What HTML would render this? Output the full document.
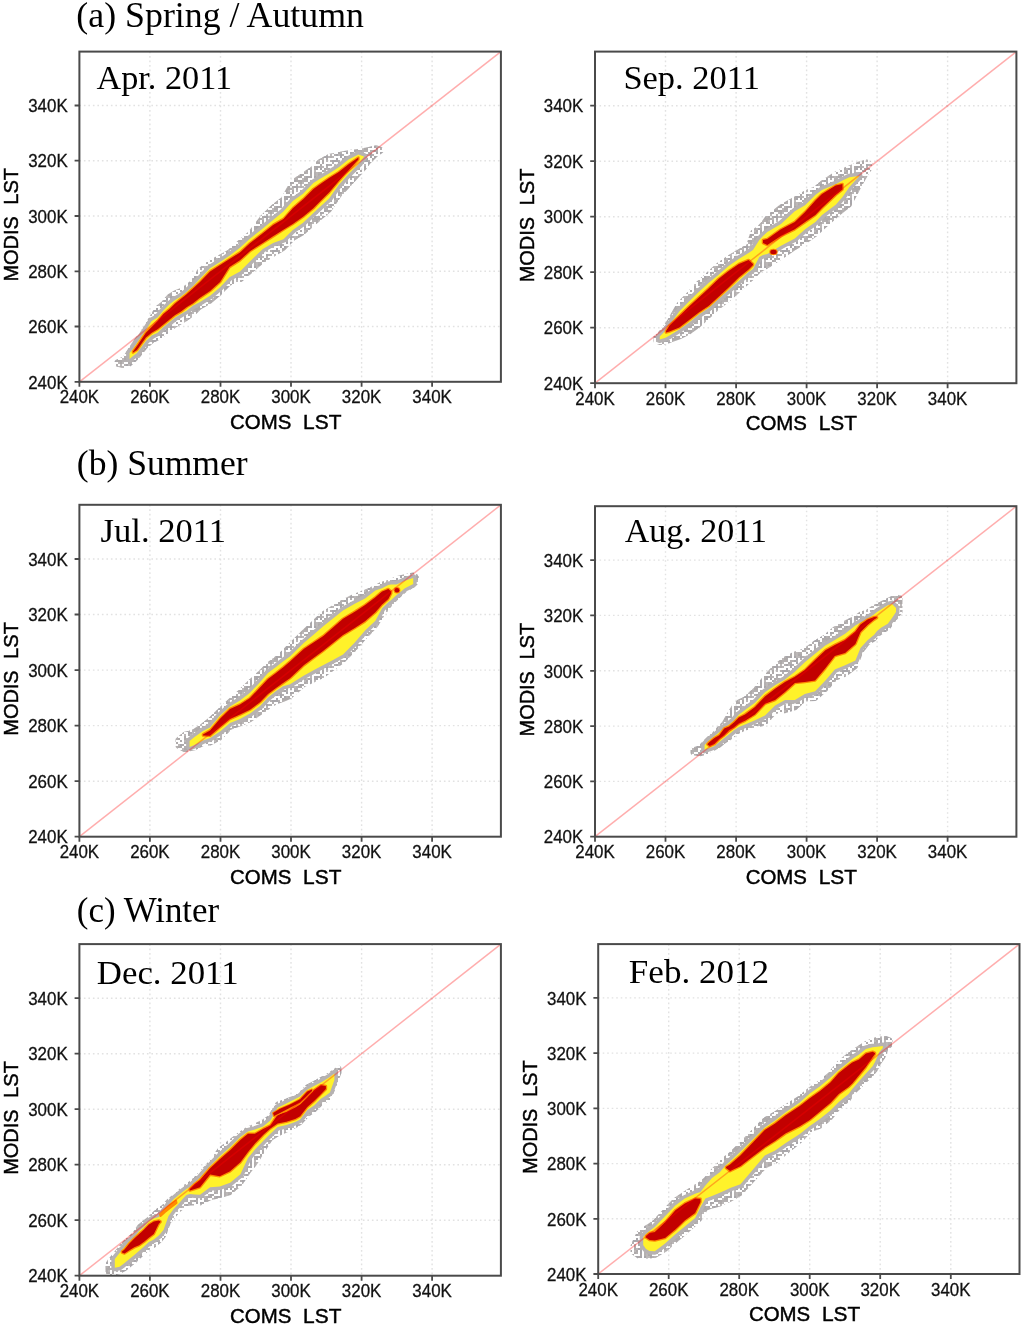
<!DOCTYPE html><html><head><meta charset="utf-8"><style>html,body{margin:0;padding:0;background:#fff;width:1024px;height:1325px;overflow:hidden}svg{display:block;will-change:transform}</style></head><body>
<svg width="1024" height="1325" viewBox="0 0 1024 1325">
<defs><filter id="bl" x="-5%" y="-5%" width="110%" height="110%"><feGaussianBlur stdDeviation="0.6"/></filter><filter id="bl2" x="-5%" y="-5%" width="110%" height="110%"><feGaussianBlur stdDeviation="0.5"/></filter><pattern id="spk" patternUnits="userSpaceOnUse" width="30" height="30"><rect x="0" y="0" width="2" height="2" fill="#aeaaaa"/><rect x="2" y="0" width="2" height="2" fill="#b4b0b0"/><rect x="4" y="0" width="2" height="2" fill="#b4b0b0"/><rect x="6" y="0" width="2" height="2" fill="#b4b0b0"/><rect x="10" y="0" width="2" height="2" fill="#b4b0b0"/><rect x="12" y="0" width="2" height="2" fill="#b4b0b0"/><rect x="14" y="0" width="2" height="2" fill="#a8a6aa"/><rect x="16" y="0" width="2" height="2" fill="#b4b0b0"/><rect x="24" y="0" width="2" height="2" fill="#a8a6aa"/><rect x="26" y="0" width="2" height="2" fill="#aeaaaa"/><rect x="28" y="0" width="2" height="2" fill="#aeaaaa"/><rect x="0" y="2" width="2" height="2" fill="#aeaaaa"/><rect x="2" y="2" width="2" height="2" fill="#bcb8b8"/><rect x="8" y="2" width="2" height="2" fill="#aeaaaa"/><rect x="10" y="2" width="2" height="2" fill="#b4b0b0"/><rect x="16" y="2" width="2" height="2" fill="#a8a6aa"/><rect x="20" y="2" width="2" height="2" fill="#a8a6aa"/><rect x="22" y="2" width="2" height="2" fill="#aeaaaa"/><rect x="28" y="2" width="2" height="2" fill="#bcb8b8"/><rect x="0" y="4" width="2" height="2" fill="#bcb8b8"/><rect x="4" y="4" width="2" height="2" fill="#b4b0b0"/><rect x="6" y="4" width="2" height="2" fill="#a8a6aa"/><rect x="8" y="4" width="2" height="2" fill="#bcb8b8"/><rect x="10" y="4" width="2" height="2" fill="#a8a6aa"/><rect x="12" y="4" width="2" height="2" fill="#b4b0b0"/><rect x="20" y="4" width="2" height="2" fill="#bcb8b8"/><rect x="26" y="4" width="2" height="2" fill="#b4b0b0"/><rect x="0" y="6" width="2" height="2" fill="#b4b0b0"/><rect x="2" y="6" width="2" height="2" fill="#bcb8b8"/><rect x="10" y="6" width="2" height="2" fill="#a8a6aa"/><rect x="14" y="6" width="2" height="2" fill="#a8a6aa"/><rect x="16" y="6" width="2" height="2" fill="#b4b0b0"/><rect x="18" y="6" width="2" height="2" fill="#aeaaaa"/><rect x="22" y="6" width="2" height="2" fill="#aeaaaa"/><rect x="24" y="6" width="2" height="2" fill="#a8a6aa"/><rect x="26" y="6" width="2" height="2" fill="#a8a6aa"/><rect x="28" y="6" width="2" height="2" fill="#bcb8b8"/><rect x="6" y="8" width="2" height="2" fill="#a8a6aa"/><rect x="12" y="8" width="2" height="2" fill="#aeaaaa"/><rect x="14" y="8" width="2" height="2" fill="#aeaaaa"/><rect x="16" y="8" width="2" height="2" fill="#aeaaaa"/><rect x="18" y="8" width="2" height="2" fill="#aeaaaa"/><rect x="20" y="8" width="2" height="2" fill="#b4b0b0"/><rect x="22" y="8" width="2" height="2" fill="#bcb8b8"/><rect x="26" y="8" width="2" height="2" fill="#aeaaaa"/><rect x="0" y="10" width="2" height="2" fill="#b4b0b0"/><rect x="2" y="10" width="2" height="2" fill="#a8a6aa"/><rect x="4" y="10" width="2" height="2" fill="#a8a6aa"/><rect x="6" y="10" width="2" height="2" fill="#a8a6aa"/><rect x="8" y="10" width="2" height="2" fill="#b4b0b0"/><rect x="12" y="10" width="2" height="2" fill="#b4b0b0"/><rect x="14" y="10" width="2" height="2" fill="#b4b0b0"/><rect x="16" y="10" width="2" height="2" fill="#aeaaaa"/><rect x="18" y="10" width="2" height="2" fill="#bcb8b8"/><rect x="22" y="10" width="2" height="2" fill="#aeaaaa"/><rect x="26" y="10" width="2" height="2" fill="#bcb8b8"/><rect x="2" y="12" width="2" height="2" fill="#b4b0b0"/><rect x="8" y="12" width="2" height="2" fill="#a8a6aa"/><rect x="10" y="12" width="2" height="2" fill="#aeaaaa"/><rect x="12" y="12" width="2" height="2" fill="#bcb8b8"/><rect x="16" y="12" width="2" height="2" fill="#aeaaaa"/><rect x="18" y="12" width="2" height="2" fill="#aeaaaa"/><rect x="22" y="12" width="2" height="2" fill="#aeaaaa"/><rect x="0" y="14" width="2" height="2" fill="#b4b0b0"/><rect x="4" y="14" width="2" height="2" fill="#bcb8b8"/><rect x="8" y="14" width="2" height="2" fill="#aeaaaa"/><rect x="10" y="14" width="2" height="2" fill="#bcb8b8"/><rect x="20" y="14" width="2" height="2" fill="#aeaaaa"/><rect x="26" y="14" width="2" height="2" fill="#a8a6aa"/><rect x="28" y="14" width="2" height="2" fill="#b4b0b0"/><rect x="4" y="16" width="2" height="2" fill="#aeaaaa"/><rect x="10" y="16" width="2" height="2" fill="#bcb8b8"/><rect x="14" y="16" width="2" height="2" fill="#aeaaaa"/><rect x="16" y="16" width="2" height="2" fill="#a8a6aa"/><rect x="18" y="16" width="2" height="2" fill="#aeaaaa"/><rect x="20" y="16" width="2" height="2" fill="#b4b0b0"/><rect x="22" y="16" width="2" height="2" fill="#bcb8b8"/><rect x="26" y="16" width="2" height="2" fill="#b4b0b0"/><rect x="4" y="18" width="2" height="2" fill="#aeaaaa"/><rect x="6" y="18" width="2" height="2" fill="#bcb8b8"/><rect x="8" y="18" width="2" height="2" fill="#a8a6aa"/><rect x="10" y="18" width="2" height="2" fill="#b4b0b0"/><rect x="14" y="18" width="2" height="2" fill="#aeaaaa"/><rect x="16" y="18" width="2" height="2" fill="#a8a6aa"/><rect x="20" y="18" width="2" height="2" fill="#a8a6aa"/><rect x="24" y="18" width="2" height="2" fill="#aeaaaa"/><rect x="26" y="18" width="2" height="2" fill="#b4b0b0"/><rect x="28" y="18" width="2" height="2" fill="#aeaaaa"/><rect x="0" y="20" width="2" height="2" fill="#aeaaaa"/><rect x="4" y="20" width="2" height="2" fill="#bcb8b8"/><rect x="6" y="20" width="2" height="2" fill="#aeaaaa"/><rect x="10" y="20" width="2" height="2" fill="#a8a6aa"/><rect x="14" y="20" width="2" height="2" fill="#bcb8b8"/><rect x="22" y="20" width="2" height="2" fill="#aeaaaa"/><rect x="24" y="20" width="2" height="2" fill="#b4b0b0"/><rect x="4" y="22" width="2" height="2" fill="#aeaaaa"/><rect x="6" y="22" width="2" height="2" fill="#b4b0b0"/><rect x="10" y="22" width="2" height="2" fill="#a8a6aa"/><rect x="14" y="22" width="2" height="2" fill="#b4b0b0"/><rect x="16" y="22" width="2" height="2" fill="#bcb8b8"/><rect x="18" y="22" width="2" height="2" fill="#b4b0b0"/><rect x="20" y="22" width="2" height="2" fill="#b4b0b0"/><rect x="26" y="22" width="2" height="2" fill="#aeaaaa"/><rect x="0" y="24" width="2" height="2" fill="#a8a6aa"/><rect x="2" y="24" width="2" height="2" fill="#aeaaaa"/><rect x="10" y="24" width="2" height="2" fill="#aeaaaa"/><rect x="14" y="24" width="2" height="2" fill="#b4b0b0"/><rect x="16" y="24" width="2" height="2" fill="#bcb8b8"/><rect x="18" y="24" width="2" height="2" fill="#aeaaaa"/><rect x="20" y="24" width="2" height="2" fill="#aeaaaa"/><rect x="28" y="24" width="2" height="2" fill="#bcb8b8"/><rect x="0" y="26" width="2" height="2" fill="#aeaaaa"/><rect x="4" y="26" width="2" height="2" fill="#b4b0b0"/><rect x="6" y="26" width="2" height="2" fill="#a8a6aa"/><rect x="8" y="26" width="2" height="2" fill="#aeaaaa"/><rect x="10" y="26" width="2" height="2" fill="#a8a6aa"/><rect x="14" y="26" width="2" height="2" fill="#a8a6aa"/><rect x="16" y="26" width="2" height="2" fill="#bcb8b8"/><rect x="18" y="26" width="2" height="2" fill="#bcb8b8"/><rect x="20" y="26" width="2" height="2" fill="#a8a6aa"/><rect x="22" y="26" width="2" height="2" fill="#b4b0b0"/><rect x="24" y="26" width="2" height="2" fill="#bcb8b8"/><rect x="26" y="26" width="2" height="2" fill="#b4b0b0"/><rect x="28" y="26" width="2" height="2" fill="#aeaaaa"/><rect x="2" y="28" width="2" height="2" fill="#bcb8b8"/><rect x="4" y="28" width="2" height="2" fill="#aeaaaa"/><rect x="6" y="28" width="2" height="2" fill="#aeaaaa"/><rect x="16" y="28" width="2" height="2" fill="#a8a6aa"/><rect x="20" y="28" width="2" height="2" fill="#b4b0b0"/><rect x="24" y="28" width="2" height="2" fill="#b4b0b0"/><rect x="26" y="28" width="2" height="2" fill="#b4b0b0"/></pattern></defs>
<rect width="1024" height="1325" fill="#fff"/>
<text x="76.3" y="26.9" font-family="Liberation Serif, serif" font-size="36" fill="#000" textLength="287.7" lengthAdjust="spacingAndGlyphs">(a) Spring / Autumn</text>
<text x="76.8" y="475.2" font-family="Liberation Serif, serif" font-size="36" fill="#000" textLength="170.86" lengthAdjust="spacingAndGlyphs">(b) Summer</text>
<text x="76.8" y="922.1" font-family="Liberation Serif, serif" font-size="36" fill="#000" textLength="142.36" lengthAdjust="spacingAndGlyphs">(c) Winter</text>
<path d="M149.9 51.6V381.8M79.4 326.5H500.9M220.5 51.6V381.8M79.4 271.3H500.9M291.0 51.6V381.8M79.4 216.0H500.9M361.6 51.6V381.8M79.4 160.7H500.9M432.1 51.6V381.8M79.4 105.5H500.9" stroke="#e2e2e2" stroke-width="1.4" stroke-dasharray="1.6 2.9" fill="none"/>
<g filter="url(#bl2)">
<path d="M117.0 362.0L124.8 358.5L129.6 351.0L133.0 346.0L137.0 340.0L145.9 328.0L151.7 317.5L157.6 308.0L163.4 303.4L169.3 296.4L175.1 292.9L181.0 290.5L186.9 287.0L192.7 282.3L200.0 270.4L210.1 262.4L220.1 257.2L229.5 251.8L240.0 242.2L249.9 233.7L262.8 217.0L273.1 207.0L283.4 199.0L292.8 182.0L303.1 175.0L313.4 168.0L319.3 162.0L329.1 156.5L338.8 154.5L348.6 152.6L358.4 151.6L364.0 150.5L368.1 149.6L376.0 147.7L381.0 149.5L381.0 151.0L376.0 154.5L368.1 162.3L364.0 168.0L358.4 174.0L348.6 184.8L338.8 195.5L329.1 210.0L319.3 218.3L313.4 223.4L303.1 232.5L292.8 238.5L283.4 248.4L273.1 254.4L262.8 260.5L249.9 271.6L240.0 280.1L229.5 283.0L220.1 292.5L210.1 301.0L200.0 307.0L192.7 314.0L186.9 318.0L181.0 321.5L175.1 325.0L169.3 329.5L163.4 334.0L157.6 338.0L151.7 341.0L145.9 346.0L137.0 357.0L133.0 361.0L129.6 364.0L124.8 366.0L117.0 364.0Z" fill="url(#spk)" stroke="url(#spk)" stroke-width="5" stroke-linejoin="round"/>
</g>
<g filter="url(#bl)">
<path d="M129.6 353.0L133.0 349.0L137.0 343.0L145.9 330.0L151.7 321.0L157.6 317.5L163.4 310.5L169.3 304.6L175.1 300.0L181.0 296.4L186.9 291.7L192.7 286.4L200.0 278.8L210.1 268.2L220.1 261.9L229.5 255.7L240.0 247.8L249.9 238.8L262.8 228.5L273.1 220.0L283.4 211.6L292.8 201.0L303.1 193.8L313.4 183.0L319.3 179.3L329.1 173.5L338.8 167.2L348.6 159.4L358.4 154.5L364.0 156.5L364.0 156.8L358.4 164.3L348.6 174.0L338.8 184.8L329.1 198.5L319.3 207.4L313.4 213.1L303.1 222.8L292.8 230.0L283.4 239.3L273.1 243.0L262.8 249.0L249.9 261.4L240.0 271.6L229.5 277.3L220.1 287.3L210.1 295.7L200.0 302.0L192.7 305.8L186.9 310.5L181.0 314.0L175.1 317.5L169.3 322.2L163.4 326.9L157.6 332.7L151.7 335.6L145.9 341.0L137.0 353.0L133.0 356.0L129.6 359.0Z" fill="#fff22a" stroke="#b6b2b2" stroke-width="7" stroke-linejoin="round" paint-order="stroke"/>
<path d="M133.0 351.5L137.0 346.0L145.9 332.7L151.7 326.9L157.6 321.0L163.4 314.0L169.3 309.3L175.1 303.4L181.0 298.7L186.9 294.0L192.7 288.8L200.0 282.0L210.1 271.4L220.1 265.1L229.5 259.1L240.0 252.4L249.9 243.3L262.8 233.3L273.1 224.9L283.4 219.0L292.8 208.3L303.1 199.3L313.4 189.0L319.3 184.8L329.1 178.0L338.8 172.1L348.6 164.3L358.4 157.5L358.4 159.5L348.6 170.2L338.8 180.9L329.1 192.5L319.3 202.2L313.4 208.3L303.1 216.8L292.8 224.0L283.4 229.7L273.1 236.3L262.8 243.0L249.9 251.2L240.0 260.3L229.5 267.1L220.1 282.0L210.1 291.0L200.0 297.8L192.7 303.4L186.9 307.0L181.0 311.6L175.1 315.1L169.3 319.8L163.4 324.5L157.6 329.2L151.7 332.7L145.9 337.4L137.0 350.0L133.0 352.5Z" fill="#c20000" stroke="#ff8a00" stroke-width="2.6" stroke-linejoin="round" paint-order="stroke"/>
</g>
<path d="M79.4 381.8L500.9 51.6" stroke="#ff0000" stroke-opacity="0.32" stroke-width="1.5" fill="none"/>
<rect x="79.4" y="51.6" width="421.5" height="330.2" fill="none" stroke="#4a4a4a" stroke-width="2"/>
<path d="M74.6 381.8H79.4M79.4 381.8V386.8M74.6 326.5H79.4M149.9 381.8V386.8M74.6 271.3H79.4M220.5 381.8V386.8M74.6 216.0H79.4M291.0 381.8V386.8M74.6 160.7H79.4M361.6 381.8V386.8M74.6 105.5H79.4M432.1 381.8V386.8" stroke="#4a4a4a" stroke-width="1.8" fill="none"/>
<text x="67.7" y="388.5" font-family="Liberation Sans, sans-serif" font-size="18.6" text-anchor="end" fill="#111" stroke="#111" stroke-width="0.3" textLength="39.5" lengthAdjust="spacingAndGlyphs">240K</text>
<text x="67.7" y="333.2" font-family="Liberation Sans, sans-serif" font-size="18.6" text-anchor="end" fill="#111" stroke="#111" stroke-width="0.3" textLength="39.5" lengthAdjust="spacingAndGlyphs">260K</text>
<text x="67.7" y="278.0" font-family="Liberation Sans, sans-serif" font-size="18.6" text-anchor="end" fill="#111" stroke="#111" stroke-width="0.3" textLength="39.5" lengthAdjust="spacingAndGlyphs">280K</text>
<text x="67.7" y="222.7" font-family="Liberation Sans, sans-serif" font-size="18.6" text-anchor="end" fill="#111" stroke="#111" stroke-width="0.3" textLength="39.5" lengthAdjust="spacingAndGlyphs">300K</text>
<text x="67.7" y="167.4" font-family="Liberation Sans, sans-serif" font-size="18.6" text-anchor="end" fill="#111" stroke="#111" stroke-width="0.3" textLength="39.5" lengthAdjust="spacingAndGlyphs">320K</text>
<text x="67.7" y="112.2" font-family="Liberation Sans, sans-serif" font-size="18.6" text-anchor="end" fill="#111" stroke="#111" stroke-width="0.3" textLength="39.5" lengthAdjust="spacingAndGlyphs">340K</text>
<text x="79.4" y="403.4" font-family="Liberation Sans, sans-serif" font-size="18.6" text-anchor="middle" fill="#111" stroke="#111" stroke-width="0.3" textLength="39.5" lengthAdjust="spacingAndGlyphs">240K</text>
<text x="149.9" y="403.4" font-family="Liberation Sans, sans-serif" font-size="18.6" text-anchor="middle" fill="#111" stroke="#111" stroke-width="0.3" textLength="39.5" lengthAdjust="spacingAndGlyphs">260K</text>
<text x="220.5" y="403.4" font-family="Liberation Sans, sans-serif" font-size="18.6" text-anchor="middle" fill="#111" stroke="#111" stroke-width="0.3" textLength="39.5" lengthAdjust="spacingAndGlyphs">280K</text>
<text x="291.0" y="403.4" font-family="Liberation Sans, sans-serif" font-size="18.6" text-anchor="middle" fill="#111" stroke="#111" stroke-width="0.3" textLength="39.5" lengthAdjust="spacingAndGlyphs">300K</text>
<text x="361.6" y="403.4" font-family="Liberation Sans, sans-serif" font-size="18.6" text-anchor="middle" fill="#111" stroke="#111" stroke-width="0.3" textLength="39.5" lengthAdjust="spacingAndGlyphs">320K</text>
<text x="432.1" y="403.4" font-family="Liberation Sans, sans-serif" font-size="18.6" text-anchor="middle" fill="#111" stroke="#111" stroke-width="0.3" textLength="39.5" lengthAdjust="spacingAndGlyphs">340K</text>
<text x="230.1" y="429.0" font-family="Liberation Sans, sans-serif" font-size="20.8" fill="#000" stroke="#000" stroke-width="0.45" textLength="61.3" lengthAdjust="spacingAndGlyphs">COMS</text>
<text x="303.1" y="429.0" font-family="Liberation Sans, sans-serif" font-size="20.8" fill="#000" stroke="#000" stroke-width="0.45" textLength="38.3" lengthAdjust="spacingAndGlyphs">LST</text>
<g transform="translate(18.4 223.3) rotate(-90)"><text x="-58.3" y="0" font-family="Liberation Sans, sans-serif" font-size="20.8" fill="#000" stroke="#000" stroke-width="0.45" textLength="65.3" lengthAdjust="spacingAndGlyphs">MODIS</text><text x="18.5" y="0" font-family="Liberation Sans, sans-serif" font-size="20.8" fill="#000" stroke="#000" stroke-width="0.45" textLength="37" lengthAdjust="spacingAndGlyphs">LST</text></g>
<text x="96.4" y="88.8" font-family="Liberation Serif, serif" font-size="34.5" fill="#000" textLength="135.84" lengthAdjust="spacingAndGlyphs">Apr. 2011</text>
<path d="M665.5 51.6V383.2M595.0 327.7H1016.4M736.1 51.6V383.2M595.0 272.2H1016.4M806.6 51.6V383.2M595.0 216.7H1016.4M877.1 51.6V383.2M595.0 161.2H1016.4M947.6 51.6V383.2M595.0 105.7H1016.4" stroke="#e2e2e2" stroke-width="1.4" stroke-dasharray="1.6 2.9" fill="none"/>
<g filter="url(#bl2)">
<path d="M656.0 337.0L659.8 334.0L664.6 328.0L666.0 326.5L669.5 321.0L679.3 304.0L689.1 294.0L698.8 283.0L708.6 274.0L718.4 265.0L728.6 258.0L738.8 252.0L748.6 246.0L753.0 232.0L759.3 228.0L763.0 224.0L767.3 218.0L781.0 207.0L794.8 199.2L805.1 193.1L815.4 188.9L822.0 183.0L835.7 174.0L842.5 171.0L849.4 168.0L859.0 164.0L867.0 162.0L870.0 164.0L870.0 168.0L867.0 172.0L859.0 186.0L849.4 204.7L842.5 210.0L835.7 215.6L822.0 228.0L815.4 234.2L805.1 241.4L794.8 247.5L781.0 257.0L767.3 266.0L763.0 268.0L759.3 270.0L753.0 277.0L748.6 281.0L738.8 290.0L728.6 299.0L718.4 307.0L708.6 316.0L698.8 325.0L689.1 332.0L679.3 337.0L669.5 340.5L666.0 341.5L664.6 342.0L659.8 342.5L656.0 341.0Z" fill="url(#spk)" stroke="url(#spk)" stroke-width="5" stroke-linejoin="round"/>
</g>
<g filter="url(#bl)">
<path d="M659.8 336.5L664.6 331.5L666.0 330.0L669.5 325.0L679.3 311.5L689.1 301.5L698.8 292.0L708.6 283.0L718.4 275.0L728.6 266.0L738.8 259.0L748.6 253.0L753.0 250.0L759.3 240.0L763.0 236.0L767.3 232.0L781.0 224.0L794.8 211.2L805.1 205.2L815.4 194.9L822.0 190.0L835.7 184.2L842.5 180.5L849.4 177.3L859.0 176.0L859.0 176.5L849.4 187.0L842.5 197.0L835.7 204.7L822.0 215.0L815.4 222.1L805.1 229.3L794.8 238.4L781.0 245.7L767.3 254.0L763.0 255.0L759.3 257.0L753.0 269.0L748.6 272.0L738.8 281.0L728.6 290.0L718.4 299.0L708.6 308.0L698.8 314.5L689.1 322.5L679.3 329.5L669.5 335.5L666.0 337.5L664.6 338.0L659.8 339.5Z" fill="#fff22a" stroke="#b6b2b2" stroke-width="7" stroke-linejoin="round" paint-order="stroke"/>
<path d="M666.0 331.0L669.5 325.5L679.3 316.0L689.1 306.5L698.8 297.5L708.6 288.5L718.4 279.0L728.6 271.0L738.8 264.0L748.6 260.0L753.0 264.0L753.0 265.0L748.6 269.5L738.8 277.5L728.6 287.5L718.4 297.0L708.6 306.0L698.8 312.5L689.1 320.0L679.3 327.5L669.5 331.5L666.0 332.5Z" fill="#c20000" stroke="#ff8a00" stroke-width="2.6" stroke-linejoin="round" paint-order="stroke"/>
<path d="M763.0 240.0L767.3 239.0L781.0 229.3L794.8 222.0L805.1 212.0L815.4 200.4L822.0 194.0L835.7 185.5L842.5 184.0L842.5 189.6L835.7 195.0L822.0 208.0L815.4 214.9L805.1 222.1L794.8 229.3L781.0 236.1L767.3 245.0L763.0 243.0Z" fill="#c20000" stroke="#ff8a00" stroke-width="2.6" stroke-linejoin="round" paint-order="stroke"/>
<ellipse cx="773.5" cy="252" rx="3.2" ry="2.2" fill="#c20000" stroke="#ff8a00" stroke-width="2" paint-order="stroke"/>
</g>
<path d="M595.0 383.2L1016.4 51.6" stroke="#ff0000" stroke-opacity="0.32" stroke-width="1.5" fill="none"/>
<rect x="595.0" y="51.6" width="421.4" height="331.6" fill="none" stroke="#4a4a4a" stroke-width="2"/>
<path d="M590.2 383.2H595.0M595.0 383.2V388.2M590.2 327.7H595.0M665.5 383.2V388.2M590.2 272.2H595.0M736.1 383.2V388.2M590.2 216.7H595.0M806.6 383.2V388.2M590.2 161.2H595.0M877.1 383.2V388.2M590.2 105.7H595.0M947.6 383.2V388.2" stroke="#4a4a4a" stroke-width="1.8" fill="none"/>
<text x="583.3" y="389.9" font-family="Liberation Sans, sans-serif" font-size="18.6" text-anchor="end" fill="#111" stroke="#111" stroke-width="0.3" textLength="39.5" lengthAdjust="spacingAndGlyphs">240K</text>
<text x="583.3" y="334.4" font-family="Liberation Sans, sans-serif" font-size="18.6" text-anchor="end" fill="#111" stroke="#111" stroke-width="0.3" textLength="39.5" lengthAdjust="spacingAndGlyphs">260K</text>
<text x="583.3" y="278.9" font-family="Liberation Sans, sans-serif" font-size="18.6" text-anchor="end" fill="#111" stroke="#111" stroke-width="0.3" textLength="39.5" lengthAdjust="spacingAndGlyphs">280K</text>
<text x="583.3" y="223.4" font-family="Liberation Sans, sans-serif" font-size="18.6" text-anchor="end" fill="#111" stroke="#111" stroke-width="0.3" textLength="39.5" lengthAdjust="spacingAndGlyphs">300K</text>
<text x="583.3" y="167.9" font-family="Liberation Sans, sans-serif" font-size="18.6" text-anchor="end" fill="#111" stroke="#111" stroke-width="0.3" textLength="39.5" lengthAdjust="spacingAndGlyphs">320K</text>
<text x="583.3" y="112.4" font-family="Liberation Sans, sans-serif" font-size="18.6" text-anchor="end" fill="#111" stroke="#111" stroke-width="0.3" textLength="39.5" lengthAdjust="spacingAndGlyphs">340K</text>
<text x="595.0" y="404.8" font-family="Liberation Sans, sans-serif" font-size="18.6" text-anchor="middle" fill="#111" stroke="#111" stroke-width="0.3" textLength="39.5" lengthAdjust="spacingAndGlyphs">240K</text>
<text x="665.5" y="404.8" font-family="Liberation Sans, sans-serif" font-size="18.6" text-anchor="middle" fill="#111" stroke="#111" stroke-width="0.3" textLength="39.5" lengthAdjust="spacingAndGlyphs">260K</text>
<text x="736.1" y="404.8" font-family="Liberation Sans, sans-serif" font-size="18.6" text-anchor="middle" fill="#111" stroke="#111" stroke-width="0.3" textLength="39.5" lengthAdjust="spacingAndGlyphs">280K</text>
<text x="806.6" y="404.8" font-family="Liberation Sans, sans-serif" font-size="18.6" text-anchor="middle" fill="#111" stroke="#111" stroke-width="0.3" textLength="39.5" lengthAdjust="spacingAndGlyphs">300K</text>
<text x="877.1" y="404.8" font-family="Liberation Sans, sans-serif" font-size="18.6" text-anchor="middle" fill="#111" stroke="#111" stroke-width="0.3" textLength="39.5" lengthAdjust="spacingAndGlyphs">320K</text>
<text x="947.6" y="404.8" font-family="Liberation Sans, sans-serif" font-size="18.6" text-anchor="middle" fill="#111" stroke="#111" stroke-width="0.3" textLength="39.5" lengthAdjust="spacingAndGlyphs">340K</text>
<text x="745.7" y="430.4" font-family="Liberation Sans, sans-serif" font-size="20.8" fill="#000" stroke="#000" stroke-width="0.45" textLength="61.3" lengthAdjust="spacingAndGlyphs">COMS</text>
<text x="818.7" y="430.4" font-family="Liberation Sans, sans-serif" font-size="20.8" fill="#000" stroke="#000" stroke-width="0.45" textLength="38.3" lengthAdjust="spacingAndGlyphs">LST</text>
<g transform="translate(534.0 224.0) rotate(-90)"><text x="-58.3" y="0" font-family="Liberation Sans, sans-serif" font-size="20.8" fill="#000" stroke="#000" stroke-width="0.45" textLength="65.3" lengthAdjust="spacingAndGlyphs">MODIS</text><text x="18.5" y="0" font-family="Liberation Sans, sans-serif" font-size="20.8" fill="#000" stroke="#000" stroke-width="0.45" textLength="37" lengthAdjust="spacingAndGlyphs">LST</text></g>
<text x="623.4" y="88.9" font-family="Liberation Serif, serif" font-size="34.5" fill="#000" textLength="136.57" lengthAdjust="spacingAndGlyphs">Sep. 2011</text>
<path d="M149.9 504.8V836.7M79.4 781.2H500.9M220.5 504.8V836.7M79.4 725.6H500.9M291.0 504.8V836.7M79.4 670.1H500.9M361.6 504.8V836.7M79.4 614.5H500.9M432.1 504.8V836.7M79.4 559.0H500.9" stroke="#e2e2e2" stroke-width="1.4" stroke-dasharray="1.6 2.9" fill="none"/>
<g filter="url(#bl2)">
<path d="M178.0 740.0L184.8 734.2L189.6 733.2L194.5 731.3L203.0 725.5L210.0 720.0L220.0 710.4L230.0 701.0L240.0 692.0L250.0 682.2L260.0 673.2L268.0 665.0L276.0 659.0L283.0 653.0L290.0 645.7L304.0 632.0L313.5 623.0L323.0 614.0L333.0 608.0L343.0 602.0L354.8 596.0L365.1 592.3L375.4 587.5L382.1 584.1L388.3 582.4L391.2 581.0L396.6 578.7L404.9 576.6L413.2 575.0L416.5 577.0L416.5 582.0L413.2 585.0L404.9 589.9L396.6 597.4L391.2 603.0L388.3 606.5L382.1 614.8L375.4 625.6L365.1 636.4L354.8 648.5L343.0 660.5L333.0 668.0L323.0 675.5L313.5 680.0L304.0 684.4L290.0 696.4L283.0 699.4L276.0 702.0L268.0 707.0L260.0 712.8L250.0 719.7L240.0 724.0L230.0 727.5L220.0 737.8L210.0 743.0L203.0 743.5L194.5 747.9L189.6 748.9L184.8 749.8L178.0 746.0Z" fill="url(#spk)" stroke="url(#spk)" stroke-width="5" stroke-linejoin="round"/>
</g>
<g filter="url(#bl)">
<path d="M189.6 741.0L194.5 737.1L203.0 731.0L210.0 727.5L220.0 715.6L230.0 706.5L240.0 700.5L250.0 692.8L260.0 682.2L268.0 673.0L276.0 667.0L283.0 661.4L290.0 656.6L304.0 642.8L313.5 634.7L323.0 626.6L333.0 618.5L343.0 610.4L354.8 603.8L365.1 598.4L375.4 590.5L382.1 588.2L388.3 584.9L391.2 584.5L396.6 584.5L404.9 580.8L413.2 577.9L413.2 584.1L404.9 588.2L396.6 594.9L391.2 600.0L388.3 602.3L382.1 608.2L375.4 620.7L365.1 630.4L354.8 642.5L343.0 654.4L333.0 660.0L323.0 665.2L313.5 670.3L304.0 675.4L290.0 684.3L283.0 686.2L276.0 691.0L268.0 697.5L260.0 706.0L250.0 713.4L240.0 719.0L230.0 723.0L220.0 731.5L210.0 738.0L203.0 740.5L194.5 745.0L189.6 747.0Z" fill="#fff22a" stroke="#b6b2b2" stroke-width="7" stroke-linejoin="round" paint-order="stroke"/>
<path d="M203.0 734.5L210.0 730.5L220.0 718.8L230.0 709.0L240.0 704.5L250.0 698.0L260.0 687.5L268.0 679.0L276.0 673.0L283.0 667.4L290.0 661.4L304.0 648.8L313.5 642.5L323.0 636.2L333.0 627.5L343.0 618.8L354.8 611.7L365.1 605.0L375.4 597.2L382.1 591.6L388.3 589.0L391.2 591.5L391.2 593.5L388.3 599.0L382.1 604.4L375.4 612.3L365.1 621.3L354.8 628.0L343.0 635.1L333.0 643.0L323.0 651.0L313.5 658.0L304.0 665.1L290.0 678.3L283.0 683.1L276.0 688.0L268.0 694.0L260.0 702.3L250.0 709.7L240.0 714.5L230.0 719.0L220.0 727.3L210.0 735.7L203.0 735.5Z" fill="#c20000" stroke="#ff8a00" stroke-width="2.6" stroke-linejoin="round" paint-order="stroke"/>
<ellipse cx="397" cy="590.3" rx="2.4" ry="2.2" fill="#c20000" stroke="#ff8a00" stroke-width="2" paint-order="stroke"/>
</g>
<path d="M79.4 836.7L500.9 504.8" stroke="#ff0000" stroke-opacity="0.32" stroke-width="1.5" fill="none"/>
<rect x="79.4" y="504.8" width="421.5" height="331.9" fill="none" stroke="#4a4a4a" stroke-width="2"/>
<path d="M74.6 836.7H79.4M79.4 836.7V841.7M74.6 781.2H79.4M149.9 836.7V841.7M74.6 725.6H79.4M220.5 836.7V841.7M74.6 670.1H79.4M291.0 836.7V841.7M74.6 614.5H79.4M361.6 836.7V841.7M74.6 559.0H79.4M432.1 836.7V841.7" stroke="#4a4a4a" stroke-width="1.8" fill="none"/>
<text x="67.7" y="843.4" font-family="Liberation Sans, sans-serif" font-size="18.6" text-anchor="end" fill="#111" stroke="#111" stroke-width="0.3" textLength="39.5" lengthAdjust="spacingAndGlyphs">240K</text>
<text x="67.7" y="787.9" font-family="Liberation Sans, sans-serif" font-size="18.6" text-anchor="end" fill="#111" stroke="#111" stroke-width="0.3" textLength="39.5" lengthAdjust="spacingAndGlyphs">260K</text>
<text x="67.7" y="732.3" font-family="Liberation Sans, sans-serif" font-size="18.6" text-anchor="end" fill="#111" stroke="#111" stroke-width="0.3" textLength="39.5" lengthAdjust="spacingAndGlyphs">280K</text>
<text x="67.7" y="676.8" font-family="Liberation Sans, sans-serif" font-size="18.6" text-anchor="end" fill="#111" stroke="#111" stroke-width="0.3" textLength="39.5" lengthAdjust="spacingAndGlyphs">300K</text>
<text x="67.7" y="621.2" font-family="Liberation Sans, sans-serif" font-size="18.6" text-anchor="end" fill="#111" stroke="#111" stroke-width="0.3" textLength="39.5" lengthAdjust="spacingAndGlyphs">320K</text>
<text x="67.7" y="565.7" font-family="Liberation Sans, sans-serif" font-size="18.6" text-anchor="end" fill="#111" stroke="#111" stroke-width="0.3" textLength="39.5" lengthAdjust="spacingAndGlyphs">340K</text>
<text x="79.4" y="858.3" font-family="Liberation Sans, sans-serif" font-size="18.6" text-anchor="middle" fill="#111" stroke="#111" stroke-width="0.3" textLength="39.5" lengthAdjust="spacingAndGlyphs">240K</text>
<text x="149.9" y="858.3" font-family="Liberation Sans, sans-serif" font-size="18.6" text-anchor="middle" fill="#111" stroke="#111" stroke-width="0.3" textLength="39.5" lengthAdjust="spacingAndGlyphs">260K</text>
<text x="220.5" y="858.3" font-family="Liberation Sans, sans-serif" font-size="18.6" text-anchor="middle" fill="#111" stroke="#111" stroke-width="0.3" textLength="39.5" lengthAdjust="spacingAndGlyphs">280K</text>
<text x="291.0" y="858.3" font-family="Liberation Sans, sans-serif" font-size="18.6" text-anchor="middle" fill="#111" stroke="#111" stroke-width="0.3" textLength="39.5" lengthAdjust="spacingAndGlyphs">300K</text>
<text x="361.6" y="858.3" font-family="Liberation Sans, sans-serif" font-size="18.6" text-anchor="middle" fill="#111" stroke="#111" stroke-width="0.3" textLength="39.5" lengthAdjust="spacingAndGlyphs">320K</text>
<text x="432.1" y="858.3" font-family="Liberation Sans, sans-serif" font-size="18.6" text-anchor="middle" fill="#111" stroke="#111" stroke-width="0.3" textLength="39.5" lengthAdjust="spacingAndGlyphs">340K</text>
<text x="230.1" y="883.9" font-family="Liberation Sans, sans-serif" font-size="20.8" fill="#000" stroke="#000" stroke-width="0.45" textLength="61.3" lengthAdjust="spacingAndGlyphs">COMS</text>
<text x="303.1" y="883.9" font-family="Liberation Sans, sans-serif" font-size="20.8" fill="#000" stroke="#000" stroke-width="0.45" textLength="38.3" lengthAdjust="spacingAndGlyphs">LST</text>
<g transform="translate(18.4 677.4) rotate(-90)"><text x="-58.3" y="0" font-family="Liberation Sans, sans-serif" font-size="20.8" fill="#000" stroke="#000" stroke-width="0.45" textLength="65.3" lengthAdjust="spacingAndGlyphs">MODIS</text><text x="18.5" y="0" font-family="Liberation Sans, sans-serif" font-size="20.8" fill="#000" stroke="#000" stroke-width="0.45" textLength="37" lengthAdjust="spacingAndGlyphs">LST</text></g>
<text x="100.6" y="541.7" font-family="Liberation Serif, serif" font-size="34.5" fill="#000" textLength="125.44" lengthAdjust="spacingAndGlyphs">Jul. 2011</text>
<path d="M665.5 506.2V836.7M595.0 781.4H1016.4M736.1 506.2V836.7M595.0 726.1H1016.4M806.6 506.2V836.7M595.0 670.8H1016.4M877.1 506.2V836.7M595.0 615.4H1016.4M947.6 506.2V836.7M595.0 560.1H1016.4" stroke="#e2e2e2" stroke-width="1.4" stroke-dasharray="1.6 2.9" fill="none"/>
<g filter="url(#bl2)">
<path d="M693.0 749.8L699.8 747.9L704.6 743.0L707.5 740.0L709.5 738.1L714.4 734.2L719.3 728.4L724.2 723.5L729.1 714.7L733.9 706.9L738.8 702.0L745.0 699.0L755.0 690.0L765.0 678.0L775.1 667.0L785.0 659.0L794.9 654.0L804.8 651.0L815.1 643.0L825.4 637.0L834.8 629.0L845.1 623.0L855.4 618.1L860.5 614.2L867.5 612.1L874.2 607.3L877.0 606.0L881.0 604.0L887.8 600.5L892.0 598.5L896.0 597.0L900.0 598.0L900.0 612.0L896.0 617.0L892.0 622.0L887.8 627.8L881.0 632.0L877.0 635.0L874.2 638.8L867.5 642.9L860.5 652.0L855.4 666.4L845.1 674.3L834.8 678.5L825.4 689.4L815.1 698.5L804.8 699.0L794.9 707.9L785.0 710.7L775.1 711.3L765.0 722.8L755.0 725.5L745.0 728.1L738.8 731.0L733.9 734.2L729.1 738.1L724.2 741.0L719.3 745.0L714.4 747.9L709.5 749.8L707.5 751.0L704.6 752.8L699.8 753.8L693.0 752.8Z" fill="url(#spk)" stroke="url(#spk)" stroke-width="5" stroke-linejoin="round"/>
</g>
<g filter="url(#bl)">
<path d="M704.6 745.0L707.5 742.0L709.5 740.1L714.4 736.2L719.3 732.3L724.2 727.4L729.1 724.5L733.9 720.5L738.8 714.7L745.0 710.1L755.0 702.8L765.0 692.2L775.1 685.3L785.0 679.6L794.9 671.7L804.8 662.3L815.1 653.8L825.4 645.4L834.8 639.9L845.1 633.8L855.4 625.4L860.5 622.4L867.5 619.0L874.2 614.2L877.0 612.0L881.0 609.4L887.8 605.3L892.0 604.0L896.0 608.0L896.0 612.0L892.0 618.0L887.8 623.7L881.0 627.8L877.0 631.0L874.2 634.7L867.5 640.2L860.5 648.0L855.4 660.4L845.1 665.2L834.8 669.4L825.4 680.4L815.1 691.3L804.8 694.0L794.9 700.0L785.0 700.0L775.1 705.6L765.0 715.4L755.0 720.2L745.0 724.4L738.8 727.0L733.9 730.3L729.1 734.2L724.2 738.1L719.3 742.0L714.4 746.0L709.5 747.9L707.5 748.5L704.6 749.8Z" fill="#fff22a" stroke="#b6b2b2" stroke-width="7" stroke-linejoin="round" paint-order="stroke"/>
<path d="M707.5 744.0L709.5 742.0L714.4 738.1L719.3 735.2L724.2 728.4L729.1 726.4L733.9 722.5L738.8 717.6L745.0 714.4L755.0 707.0L765.0 696.4L775.1 688.7L785.0 681.9L794.9 676.8L804.8 670.1L815.1 659.9L825.4 650.2L834.8 645.0L845.1 640.0L855.4 631.4L860.5 624.4L867.5 619.6L874.2 617.0L877.0 617.3L877.0 617.8L874.2 619.6L867.5 625.1L860.5 632.0L855.4 644.0L845.1 653.0L834.8 656.0L825.4 668.3L815.1 680.4L804.8 682.0L794.9 683.0L785.0 692.0L775.1 700.0L765.0 703.8L755.0 714.4L745.0 720.7L738.8 723.5L733.9 727.4L729.1 730.3L724.2 735.2L719.3 739.1L714.4 744.0L709.5 746.0L707.5 744.5Z" fill="#c20000" stroke="#ff8a00" stroke-width="2.6" stroke-linejoin="round" paint-order="stroke"/>
</g>
<path d="M595.0 836.7L1016.4 506.2" stroke="#ff0000" stroke-opacity="0.32" stroke-width="1.5" fill="none"/>
<rect x="595.0" y="506.2" width="421.4" height="330.5" fill="none" stroke="#4a4a4a" stroke-width="2"/>
<path d="M590.2 836.7H595.0M595.0 836.7V841.7M590.2 781.4H595.0M665.5 836.7V841.7M590.2 726.1H595.0M736.1 836.7V841.7M590.2 670.8H595.0M806.6 836.7V841.7M590.2 615.4H595.0M877.1 836.7V841.7M590.2 560.1H595.0M947.6 836.7V841.7" stroke="#4a4a4a" stroke-width="1.8" fill="none"/>
<text x="583.3" y="843.4" font-family="Liberation Sans, sans-serif" font-size="18.6" text-anchor="end" fill="#111" stroke="#111" stroke-width="0.3" textLength="39.5" lengthAdjust="spacingAndGlyphs">240K</text>
<text x="583.3" y="788.1" font-family="Liberation Sans, sans-serif" font-size="18.6" text-anchor="end" fill="#111" stroke="#111" stroke-width="0.3" textLength="39.5" lengthAdjust="spacingAndGlyphs">260K</text>
<text x="583.3" y="732.8" font-family="Liberation Sans, sans-serif" font-size="18.6" text-anchor="end" fill="#111" stroke="#111" stroke-width="0.3" textLength="39.5" lengthAdjust="spacingAndGlyphs">280K</text>
<text x="583.3" y="677.5" font-family="Liberation Sans, sans-serif" font-size="18.6" text-anchor="end" fill="#111" stroke="#111" stroke-width="0.3" textLength="39.5" lengthAdjust="spacingAndGlyphs">300K</text>
<text x="583.3" y="622.1" font-family="Liberation Sans, sans-serif" font-size="18.6" text-anchor="end" fill="#111" stroke="#111" stroke-width="0.3" textLength="39.5" lengthAdjust="spacingAndGlyphs">320K</text>
<text x="583.3" y="566.8" font-family="Liberation Sans, sans-serif" font-size="18.6" text-anchor="end" fill="#111" stroke="#111" stroke-width="0.3" textLength="39.5" lengthAdjust="spacingAndGlyphs">340K</text>
<text x="595.0" y="858.3" font-family="Liberation Sans, sans-serif" font-size="18.6" text-anchor="middle" fill="#111" stroke="#111" stroke-width="0.3" textLength="39.5" lengthAdjust="spacingAndGlyphs">240K</text>
<text x="665.5" y="858.3" font-family="Liberation Sans, sans-serif" font-size="18.6" text-anchor="middle" fill="#111" stroke="#111" stroke-width="0.3" textLength="39.5" lengthAdjust="spacingAndGlyphs">260K</text>
<text x="736.1" y="858.3" font-family="Liberation Sans, sans-serif" font-size="18.6" text-anchor="middle" fill="#111" stroke="#111" stroke-width="0.3" textLength="39.5" lengthAdjust="spacingAndGlyphs">280K</text>
<text x="806.6" y="858.3" font-family="Liberation Sans, sans-serif" font-size="18.6" text-anchor="middle" fill="#111" stroke="#111" stroke-width="0.3" textLength="39.5" lengthAdjust="spacingAndGlyphs">300K</text>
<text x="877.1" y="858.3" font-family="Liberation Sans, sans-serif" font-size="18.6" text-anchor="middle" fill="#111" stroke="#111" stroke-width="0.3" textLength="39.5" lengthAdjust="spacingAndGlyphs">320K</text>
<text x="947.6" y="858.3" font-family="Liberation Sans, sans-serif" font-size="18.6" text-anchor="middle" fill="#111" stroke="#111" stroke-width="0.3" textLength="39.5" lengthAdjust="spacingAndGlyphs">340K</text>
<text x="745.7" y="883.9" font-family="Liberation Sans, sans-serif" font-size="20.8" fill="#000" stroke="#000" stroke-width="0.45" textLength="61.3" lengthAdjust="spacingAndGlyphs">COMS</text>
<text x="818.7" y="883.9" font-family="Liberation Sans, sans-serif" font-size="20.8" fill="#000" stroke="#000" stroke-width="0.45" textLength="38.3" lengthAdjust="spacingAndGlyphs">LST</text>
<g transform="translate(534.0 678.1) rotate(-90)"><text x="-58.3" y="0" font-family="Liberation Sans, sans-serif" font-size="20.8" fill="#000" stroke="#000" stroke-width="0.45" textLength="65.3" lengthAdjust="spacingAndGlyphs">MODIS</text><text x="18.5" y="0" font-family="Liberation Sans, sans-serif" font-size="20.8" fill="#000" stroke="#000" stroke-width="0.45" textLength="37" lengthAdjust="spacingAndGlyphs">LST</text></g>
<text x="624.8" y="542.1" font-family="Liberation Serif, serif" font-size="34.5" fill="#000" textLength="142.28" lengthAdjust="spacingAndGlyphs">Aug. 2011</text>
<path d="M149.9 944.1V1275.7M79.4 1220.2H500.9M220.5 944.1V1275.7M79.4 1164.7H500.9M291.0 944.1V1275.7M79.4 1109.2H500.9M361.6 944.1V1275.7M79.4 1053.7H500.9M432.1 944.1V1275.7M79.4 998.2H500.9" stroke="#e2e2e2" stroke-width="1.4" stroke-dasharray="1.6 2.9" fill="none"/>
<g filter="url(#bl2)">
<path d="M108.0 1264.0L109.9 1261.0L114.8 1255.0L119.6 1249.2L122.0 1246.0L124.5 1243.4L129.4 1238.5L134.3 1234.6L139.2 1227.0L144.1 1222.9L148.9 1219.2L153.8 1214.5L158.7 1210.2L160.5 1209.0L163.6 1207.2L168.5 1201.4L173.4 1197.5L178.2 1193.5L183.1 1188.7L186.5 1186.0L189.9 1184.0L194.8 1180.0L200.0 1174.6L210.1 1163.5L219.8 1150.0L230.1 1142.0L240.4 1134.0L248.0 1129.0L255.0 1126.0L263.1 1122.0L270.4 1117.0L277.6 1104.2L286.4 1101.0L295.2 1097.5L300.1 1095.0L307.3 1087.0L314.1 1083.4L320.9 1079.7L325.9 1077.0L329.9 1074.8L334.4 1071.6L339.0 1068.5L339.0 1072.5L334.4 1084.3L329.9 1096.5L325.9 1100.0L320.9 1103.3L314.1 1110.0L307.3 1114.6L300.1 1122.5L295.2 1125.5L286.4 1130.0L277.6 1134.0L270.4 1138.6L263.1 1150.0L255.0 1163.0L248.0 1172.0L240.4 1183.4L230.1 1192.5L219.8 1195.5L210.1 1197.8L200.0 1203.1L194.8 1203.0L189.9 1203.0L186.5 1204.0L183.1 1206.3L178.2 1210.2L173.4 1216.0L168.5 1221.9L163.6 1235.5L160.5 1239.5L158.7 1241.4L153.8 1245.3L148.9 1247.0L144.1 1251.6L139.2 1256.3L134.3 1261.0L129.4 1264.8L124.5 1268.8L122.0 1270.0L119.6 1271.7L114.8 1272.7L109.9 1272.7L108.0 1272.0Z" fill="url(#spk)" stroke="url(#spk)" stroke-width="5" stroke-linejoin="round"/>
</g>
<g filter="url(#bl)">
<path d="M114.8 1259.0L119.6 1253.0L122.0 1250.0L124.5 1247.3L129.4 1241.4L134.3 1237.5L139.2 1231.0L144.1 1226.7L148.9 1221.6L153.8 1218.5L158.7 1217.0L160.5 1215.5L163.6 1212.0L168.5 1205.3L173.4 1199.4L178.2 1195.5L183.1 1191.6L186.5 1189.0L189.9 1187.0L194.8 1182.5L200.0 1177.8L210.1 1166.1L219.8 1156.2L230.1 1147.2L240.4 1136.9L248.0 1131.4L255.0 1129.6L263.1 1126.6L270.4 1120.5L277.6 1107.7L286.4 1103.5L295.2 1099.0L300.1 1096.5L307.3 1089.7L314.1 1086.0L320.9 1082.5L325.9 1079.5L329.9 1077.0L334.4 1073.4L334.4 1080.0L329.9 1092.4L325.9 1095.5L320.9 1098.8L314.1 1105.6L307.3 1110.0L300.1 1119.4L295.2 1122.0L286.4 1125.0L277.6 1127.0L270.4 1133.8L263.1 1141.0L255.0 1149.5L248.0 1158.0L240.4 1174.3L230.1 1182.8L219.8 1186.4L210.1 1187.3L200.0 1194.7L194.8 1194.5L189.9 1194.0L186.5 1195.0L183.1 1198.4L178.2 1204.3L173.4 1209.2L168.5 1216.0L163.6 1229.7L160.5 1233.5L158.7 1235.5L153.8 1239.5L148.9 1242.0L144.1 1246.5L139.2 1250.8L134.3 1255.0L129.4 1259.0L124.5 1262.9L122.0 1265.0L119.6 1266.8L114.8 1267.8Z" fill="#fff22a" stroke="#b6b2b2" stroke-width="7" stroke-linejoin="round" paint-order="stroke"/>
<path d="M122.0 1251.5L124.5 1249.5L129.4 1243.4L134.3 1238.5L139.2 1234.0L144.1 1229.6L148.9 1224.6L153.8 1221.5L158.7 1220.5L160.5 1221.5L160.5 1222.0L158.7 1224.0L153.8 1234.0L148.9 1237.8L144.1 1241.8L139.2 1245.3L134.3 1247.3L129.4 1250.2L124.5 1253.5L122.0 1252.5Z" fill="#c20000" stroke="#ff8a00" stroke-width="2.6" stroke-linejoin="round" paint-order="stroke"/>
<path d="M189.9 1189.0L194.8 1184.0L200.0 1179.9L210.1 1168.2L219.8 1159.3L230.1 1150.2L240.4 1140.0L248.0 1133.8L255.0 1133.8L263.1 1129.0L270.4 1125.4L277.6 1114.8L286.4 1112.0L295.2 1107.5L300.1 1104.6L307.3 1097.4L314.1 1090.0L320.9 1085.2L325.9 1086.0L325.9 1089.0L320.9 1094.2L314.1 1101.0L307.3 1106.9L300.1 1116.2L295.2 1119.0L286.4 1121.8L277.6 1123.5L270.4 1128.4L263.1 1135.0L255.0 1143.5L248.0 1151.9L240.4 1162.3L230.1 1171.3L219.8 1176.2L210.1 1174.6L200.0 1187.3L194.8 1189.0L189.9 1190.5Z" fill="#c20000" stroke="#ff8a00" stroke-width="2.6" stroke-linejoin="round" paint-order="stroke"/>
<path d="M160.0 1214.5L165.0 1209.5L170.0 1205.0L176.0 1200.5L176.5 1203.0L170.0 1208.0L165.0 1212.0L160.5 1216.0Z" fill="#ff8a00" stroke="#ff8a00" stroke-width="2" stroke-linejoin="round" paint-order="stroke"/>
<path d="M273.0 1113.0L280.0 1108.8L290.0 1104.6L300.1 1099.3L307.3 1091.5L312.0 1089.5L312.0 1091.0L307.3 1095.6L300.1 1102.5L290.0 1107.8L280.0 1113.0L274.0 1116.0Z" fill="#c20000" stroke="#ff8a00" stroke-width="2" stroke-linejoin="round" paint-order="stroke"/>
</g>
<path d="M79.4 1275.7L500.9 944.1" stroke="#ff0000" stroke-opacity="0.32" stroke-width="1.5" fill="none"/>
<rect x="79.4" y="944.1" width="421.5" height="331.6" fill="none" stroke="#4a4a4a" stroke-width="2"/>
<path d="M74.6 1275.7H79.4M79.4 1275.7V1280.7M74.6 1220.2H79.4M149.9 1275.7V1280.7M74.6 1164.7H79.4M220.5 1275.7V1280.7M74.6 1109.2H79.4M291.0 1275.7V1280.7M74.6 1053.7H79.4M361.6 1275.7V1280.7M74.6 998.2H79.4M432.1 1275.7V1280.7" stroke="#4a4a4a" stroke-width="1.8" fill="none"/>
<text x="67.7" y="1282.4" font-family="Liberation Sans, sans-serif" font-size="18.6" text-anchor="end" fill="#111" stroke="#111" stroke-width="0.3" textLength="39.5" lengthAdjust="spacingAndGlyphs">240K</text>
<text x="67.7" y="1226.9" font-family="Liberation Sans, sans-serif" font-size="18.6" text-anchor="end" fill="#111" stroke="#111" stroke-width="0.3" textLength="39.5" lengthAdjust="spacingAndGlyphs">260K</text>
<text x="67.7" y="1171.4" font-family="Liberation Sans, sans-serif" font-size="18.6" text-anchor="end" fill="#111" stroke="#111" stroke-width="0.3" textLength="39.5" lengthAdjust="spacingAndGlyphs">280K</text>
<text x="67.7" y="1115.9" font-family="Liberation Sans, sans-serif" font-size="18.6" text-anchor="end" fill="#111" stroke="#111" stroke-width="0.3" textLength="39.5" lengthAdjust="spacingAndGlyphs">300K</text>
<text x="67.7" y="1060.4" font-family="Liberation Sans, sans-serif" font-size="18.6" text-anchor="end" fill="#111" stroke="#111" stroke-width="0.3" textLength="39.5" lengthAdjust="spacingAndGlyphs">320K</text>
<text x="67.7" y="1004.9" font-family="Liberation Sans, sans-serif" font-size="18.6" text-anchor="end" fill="#111" stroke="#111" stroke-width="0.3" textLength="39.5" lengthAdjust="spacingAndGlyphs">340K</text>
<text x="79.4" y="1297.3" font-family="Liberation Sans, sans-serif" font-size="18.6" text-anchor="middle" fill="#111" stroke="#111" stroke-width="0.3" textLength="39.5" lengthAdjust="spacingAndGlyphs">240K</text>
<text x="149.9" y="1297.3" font-family="Liberation Sans, sans-serif" font-size="18.6" text-anchor="middle" fill="#111" stroke="#111" stroke-width="0.3" textLength="39.5" lengthAdjust="spacingAndGlyphs">260K</text>
<text x="220.5" y="1297.3" font-family="Liberation Sans, sans-serif" font-size="18.6" text-anchor="middle" fill="#111" stroke="#111" stroke-width="0.3" textLength="39.5" lengthAdjust="spacingAndGlyphs">280K</text>
<text x="291.0" y="1297.3" font-family="Liberation Sans, sans-serif" font-size="18.6" text-anchor="middle" fill="#111" stroke="#111" stroke-width="0.3" textLength="39.5" lengthAdjust="spacingAndGlyphs">300K</text>
<text x="361.6" y="1297.3" font-family="Liberation Sans, sans-serif" font-size="18.6" text-anchor="middle" fill="#111" stroke="#111" stroke-width="0.3" textLength="39.5" lengthAdjust="spacingAndGlyphs">320K</text>
<text x="432.1" y="1297.3" font-family="Liberation Sans, sans-serif" font-size="18.6" text-anchor="middle" fill="#111" stroke="#111" stroke-width="0.3" textLength="39.5" lengthAdjust="spacingAndGlyphs">340K</text>
<text x="230.1" y="1322.9" font-family="Liberation Sans, sans-serif" font-size="20.8" fill="#000" stroke="#000" stroke-width="0.45" textLength="61.3" lengthAdjust="spacingAndGlyphs">COMS</text>
<text x="303.1" y="1322.9" font-family="Liberation Sans, sans-serif" font-size="20.8" fill="#000" stroke="#000" stroke-width="0.45" textLength="38.3" lengthAdjust="spacingAndGlyphs">LST</text>
<g transform="translate(18.4 1116.5) rotate(-90)"><text x="-58.3" y="0" font-family="Liberation Sans, sans-serif" font-size="20.8" fill="#000" stroke="#000" stroke-width="0.45" textLength="65.3" lengthAdjust="spacingAndGlyphs">MODIS</text><text x="18.5" y="0" font-family="Liberation Sans, sans-serif" font-size="20.8" fill="#000" stroke="#000" stroke-width="0.45" textLength="37" lengthAdjust="spacingAndGlyphs">LST</text></g>
<text x="96.8" y="984.1" font-family="Liberation Serif, serif" font-size="34.5" fill="#000" textLength="141.81" lengthAdjust="spacingAndGlyphs">Dec. 2011</text>
<path d="M668.7 944.1V1274.0M598.2 1218.8H1019.5M739.2 944.1V1274.0M598.2 1163.6H1019.5M809.7 944.1V1274.0M598.2 1108.4H1019.5M880.2 944.1V1274.0M598.2 1053.1H1019.5M950.8 944.1V1274.0M598.2 997.9H1019.5" stroke="#e2e2e2" stroke-width="1.4" stroke-dasharray="1.6 2.9" fill="none"/>
<g filter="url(#bl2)">
<path d="M633.0 1246.0L638.8 1233.3L643.2 1230.0L646.0 1228.0L649.5 1226.0L654.8 1222.0L665.1 1211.0L675.4 1200.0L684.8 1193.8L695.1 1187.2L700.5 1184.0L705.4 1180.0L712.0 1172.0L719.8 1164.0L726.0 1158.0L730.1 1155.0L740.4 1145.0L750.0 1135.2L764.8 1120.0L775.1 1114.0L785.4 1107.0L799.8 1098.0L809.8 1089.9L820.1 1082.6L830.4 1074.2L838.8 1063.2L848.6 1055.4L852.3 1052.6L859.1 1048.1L865.9 1043.6L872.6 1040.9L875.0 1040.0L879.4 1039.0L882.8 1038.8L886.2 1038.6L890.0 1040.0L890.0 1045.0L886.2 1048.0L882.8 1057.0L879.4 1061.7L875.0 1070.0L872.6 1073.0L865.9 1079.8L859.1 1086.6L852.3 1093.0L848.6 1099.0L838.8 1107.0L830.4 1117.6L820.1 1126.1L809.8 1130.0L799.8 1140.7L785.4 1152.4L775.1 1161.4L764.8 1166.0L750.0 1182.6L740.4 1193.4L730.1 1199.4L726.0 1201.0L719.8 1204.0L712.0 1206.0L705.4 1208.3L700.5 1218.0L695.1 1223.4L684.8 1232.5L675.4 1240.4L665.1 1249.4L654.8 1255.5L649.5 1256.0L646.0 1256.0L643.2 1256.5L638.8 1256.1L633.0 1252.0Z" fill="url(#spk)" stroke="url(#spk)" stroke-width="5" stroke-linejoin="round"/>
</g>
<g filter="url(#bl)">
<path d="M643.2 1237.0L646.0 1234.0L649.5 1231.0L654.8 1227.1L665.1 1216.2L675.4 1205.4L684.8 1198.6L695.1 1193.8L700.5 1192.0L705.4 1185.4L712.0 1178.0L719.8 1172.3L726.0 1165.0L730.1 1161.4L740.4 1151.7L750.0 1142.2L764.8 1127.6L775.1 1120.4L785.4 1112.5L799.8 1102.5L809.8 1093.5L820.1 1086.2L830.4 1077.8L838.8 1070.0L848.6 1062.2L852.3 1059.0L859.1 1054.5L865.9 1049.0L872.6 1047.2L875.0 1047.0L879.4 1046.5L882.8 1046.0L882.8 1048.0L879.4 1052.0L875.0 1062.0L872.6 1066.2L865.9 1073.5L859.1 1081.2L852.3 1088.9L848.6 1094.0L838.8 1102.0L830.4 1110.4L820.1 1118.8L809.8 1126.1L799.8 1134.0L785.4 1143.3L775.1 1150.6L764.8 1155.4L750.0 1172.9L740.4 1184.3L730.1 1188.0L726.0 1190.0L719.8 1192.8L712.0 1196.0L705.4 1198.6L700.5 1207.0L695.1 1218.0L684.8 1226.4L675.4 1234.3L665.1 1243.4L654.8 1251.3L649.5 1251.0L646.0 1249.0L643.2 1245.0Z" fill="#fff22a" stroke="#b6b2b2" stroke-width="7" stroke-linejoin="round" paint-order="stroke"/>
<path d="M646.0 1236.0L649.5 1233.0L654.8 1231.9L665.1 1222.3L675.4 1210.2L684.8 1203.5L695.1 1198.6L700.5 1198.8L700.5 1202.0L695.1 1213.1L684.8 1220.4L675.4 1229.5L665.1 1238.0L654.8 1240.4L649.5 1240.0L646.0 1237.5Z" fill="#c20000" stroke="#ff8a00" stroke-width="2.6" stroke-linejoin="round" paint-order="stroke"/>
<path d="M726.0 1167.0L730.1 1164.5L740.4 1155.4L750.0 1145.4L764.8 1130.0L775.1 1123.4L785.4 1115.5L799.8 1106.0L809.8 1098.3L820.1 1091.1L830.4 1082.6L838.8 1073.0L848.6 1065.2L852.3 1062.6L859.1 1059.4L865.9 1053.6L872.6 1051.7L875.0 1053.0L875.0 1054.0L872.6 1057.2L865.9 1067.1L859.1 1075.3L852.3 1083.4L848.6 1087.0L838.8 1094.0L830.4 1103.1L820.1 1111.6L809.8 1120.0L799.8 1126.3L785.4 1133.6L775.1 1140.9L764.8 1147.5L750.0 1158.8L740.4 1166.2L730.1 1171.1L726.0 1168.0Z" fill="#c20000" stroke="#ff8a00" stroke-width="2.6" stroke-linejoin="round" paint-order="stroke"/>
</g>
<path d="M598.2 1274.0L1019.5 944.1" stroke="#ff0000" stroke-opacity="0.32" stroke-width="1.5" fill="none"/>
<rect x="598.2" y="944.1" width="421.3" height="329.9" fill="none" stroke="#4a4a4a" stroke-width="2"/>
<path d="M593.4 1274.0H598.2M598.2 1274.0V1279.0M593.4 1218.8H598.2M668.7 1274.0V1279.0M593.4 1163.6H598.2M739.2 1274.0V1279.0M593.4 1108.4H598.2M809.7 1274.0V1279.0M593.4 1053.1H598.2M880.2 1274.0V1279.0M593.4 997.9H598.2M950.8 1274.0V1279.0" stroke="#4a4a4a" stroke-width="1.8" fill="none"/>
<text x="586.5" y="1280.7" font-family="Liberation Sans, sans-serif" font-size="18.6" text-anchor="end" fill="#111" stroke="#111" stroke-width="0.3" textLength="39.5" lengthAdjust="spacingAndGlyphs">240K</text>
<text x="586.5" y="1225.5" font-family="Liberation Sans, sans-serif" font-size="18.6" text-anchor="end" fill="#111" stroke="#111" stroke-width="0.3" textLength="39.5" lengthAdjust="spacingAndGlyphs">260K</text>
<text x="586.5" y="1170.3" font-family="Liberation Sans, sans-serif" font-size="18.6" text-anchor="end" fill="#111" stroke="#111" stroke-width="0.3" textLength="39.5" lengthAdjust="spacingAndGlyphs">280K</text>
<text x="586.5" y="1115.1" font-family="Liberation Sans, sans-serif" font-size="18.6" text-anchor="end" fill="#111" stroke="#111" stroke-width="0.3" textLength="39.5" lengthAdjust="spacingAndGlyphs">300K</text>
<text x="586.5" y="1059.8" font-family="Liberation Sans, sans-serif" font-size="18.6" text-anchor="end" fill="#111" stroke="#111" stroke-width="0.3" textLength="39.5" lengthAdjust="spacingAndGlyphs">320K</text>
<text x="586.5" y="1004.6" font-family="Liberation Sans, sans-serif" font-size="18.6" text-anchor="end" fill="#111" stroke="#111" stroke-width="0.3" textLength="39.5" lengthAdjust="spacingAndGlyphs">340K</text>
<text x="598.2" y="1295.6" font-family="Liberation Sans, sans-serif" font-size="18.6" text-anchor="middle" fill="#111" stroke="#111" stroke-width="0.3" textLength="39.5" lengthAdjust="spacingAndGlyphs">240K</text>
<text x="668.7" y="1295.6" font-family="Liberation Sans, sans-serif" font-size="18.6" text-anchor="middle" fill="#111" stroke="#111" stroke-width="0.3" textLength="39.5" lengthAdjust="spacingAndGlyphs">260K</text>
<text x="739.2" y="1295.6" font-family="Liberation Sans, sans-serif" font-size="18.6" text-anchor="middle" fill="#111" stroke="#111" stroke-width="0.3" textLength="39.5" lengthAdjust="spacingAndGlyphs">280K</text>
<text x="809.7" y="1295.6" font-family="Liberation Sans, sans-serif" font-size="18.6" text-anchor="middle" fill="#111" stroke="#111" stroke-width="0.3" textLength="39.5" lengthAdjust="spacingAndGlyphs">300K</text>
<text x="880.2" y="1295.6" font-family="Liberation Sans, sans-serif" font-size="18.6" text-anchor="middle" fill="#111" stroke="#111" stroke-width="0.3" textLength="39.5" lengthAdjust="spacingAndGlyphs">320K</text>
<text x="950.8" y="1295.6" font-family="Liberation Sans, sans-serif" font-size="18.6" text-anchor="middle" fill="#111" stroke="#111" stroke-width="0.3" textLength="39.5" lengthAdjust="spacingAndGlyphs">340K</text>
<text x="748.9" y="1321.2" font-family="Liberation Sans, sans-serif" font-size="20.8" fill="#000" stroke="#000" stroke-width="0.45" textLength="61.3" lengthAdjust="spacingAndGlyphs">COMS</text>
<text x="821.9" y="1321.2" font-family="Liberation Sans, sans-serif" font-size="20.8" fill="#000" stroke="#000" stroke-width="0.45" textLength="38.3" lengthAdjust="spacingAndGlyphs">LST</text>
<g transform="translate(537.2 1115.6) rotate(-90)"><text x="-58.3" y="0" font-family="Liberation Sans, sans-serif" font-size="20.8" fill="#000" stroke="#000" stroke-width="0.45" textLength="65.3" lengthAdjust="spacingAndGlyphs">MODIS</text><text x="18.5" y="0" font-family="Liberation Sans, sans-serif" font-size="20.8" fill="#000" stroke="#000" stroke-width="0.45" textLength="37" lengthAdjust="spacingAndGlyphs">LST</text></g>
<text x="628.8" y="983.0" font-family="Liberation Serif, serif" font-size="34.5" fill="#000" textLength="140.32" lengthAdjust="spacingAndGlyphs">Feb. 2012</text>
</svg></body></html>
